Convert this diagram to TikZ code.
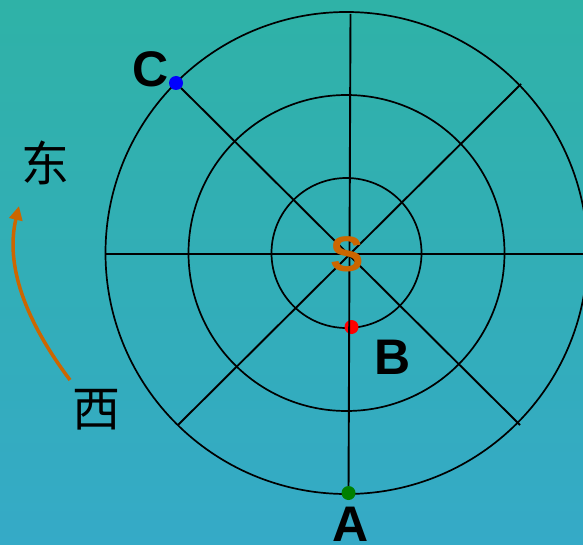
\documentclass[tikz,border=0pt]{standalone}
\usepackage{fontspec}
\setmainfont{Liberation Sans}
\newfontfamily\cjk{Noto Sans CJK SC}
\usetikzlibrary{arrows.meta}
\definecolor{bgtop}{RGB}{47,178,167}
\definecolor{bgbot}{RGB}{53,170,199}
\definecolor{sunorange}{RGB}{204,102,0}
\definecolor{dotgreen}{RGB}{0,128,0}
\tikzset{
  ring/.style={line width=1.7pt},
  spoke/.style={line width=1.9pt},
  dot/.style={circle, fill=#1, inner sep=0pt, minimum size=14pt},
  letter/.style={font=\fontsize{50}{50}\selectfont\bfseries},
  hanzi/.style={font=\cjk\fontsize{48}{48}\selectfont},
}
\begin{document}
\begin{tikzpicture}[x=1pt,y=-1pt]
        %%%%%%%%% Sfondo %%%%%%%%%
        \useasboundingbox (0,0) rectangle (583,545);
        \shade[top color=bgtop, bottom color=bgbot] (0,0) rectangle (583,545);

        \coordinate (O) at (346.5,253);

        %%%%%%%%% Cerchi %%%%%%%%%
        \foreach \r in {75,158,241}
            \draw[ring] (O) circle[radius=\r pt];

        %%%%%%%%% Punti %%%%%%%%%%
        \node[dot=blue] (c) at (176,83) {};
        \node[dot=red] (b) at (351.5,327) {};
        \node[dot=dotgreen] (a) at (348.5,493) {};

        %%%%%%%%% Raggi %%%%%%%%%%
        \draw[spoke] (106,254) -- (583,254);
        \draw[spoke] (350.5,14) -- (a);
        \draw[spoke] (c) -- (520,425);
        \draw[spoke] (178,425) -- (521,84);

        %%%%%%%%% Lettere %%%%%%%%
        \node[letter, text=sunorange] (s) at (347,254) {S};
        \node[letter] (lc) at (151,69) {C};
        \node[letter] (lb) at (393,357) {B};
        \node[letter] (la) at (351,524) {A};

        %%%%%%%% Est / Ovest %%%%%%%
        \node[hanzi] (dong) at (45,163) {东};
        \node[hanzi] (xi) at (96,410) {西};
        \coordinate (tail) at (70,380);
        \coordinate (tip) at (19,206);
        \draw[sunorange, line width=3.5pt, -{Triangle[length=14pt,width=13pt]}]
            (tail) .. controls (25,320) and (5,265) .. (tip);
\end{tikzpicture}
\end{document}
